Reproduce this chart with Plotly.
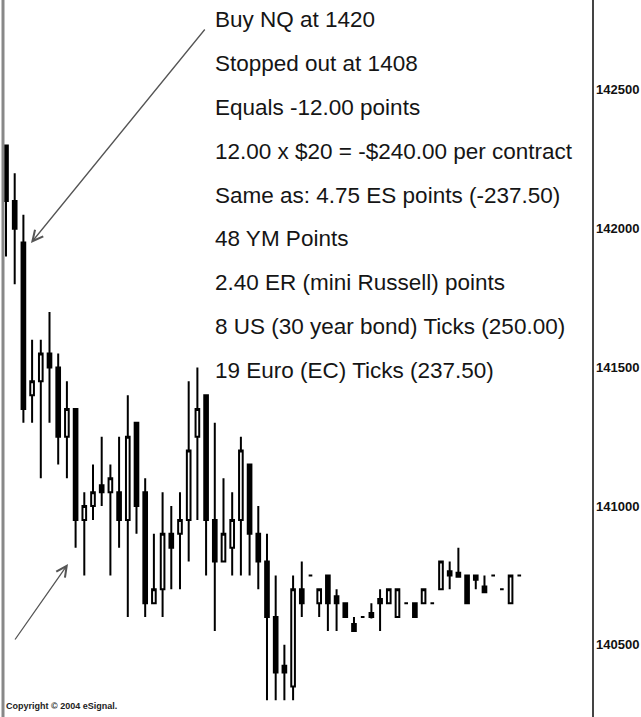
import plotly.graph_objects as go

# ---- data (NQ price x100) ----
bar_index = list(range(60))
open_ = [142300, 142100, 141950, 141400, 141450, 141550, 141500, 141250, 141350, 140950,
         141000, 141075, 141050, 141050, 140950, 141300, 141050, 140650, 140700, 140900,
         140900, 140950, 141250, 141400, 140950, 140800, 140850, 140950, 141150, 140900,
         140800, 140600, 140425, 140350, 140700, 140750, 140650, 140750, 140675, 140650,
         140575, 140600, 140615, 140665, 140650, 140600, 140650, 140650, 140650, 140650,
         140700, 140765, 140760, 140750, 140750, 140710, 140750, 140700, 140650, 140750]
high = [142300, 142200, 142050, 141600, 141600, 141700, 141550, 141450, 141350, 141050,
        141150, 141250, 141150, 141250, 141400, 141300, 141100, 140900, 141050, 141000,
        141050, 141450, 141500, 141400, 141300, 141100, 141050, 141250, 141150, 141000,
        140900, 140750, 140500, 140750, 140800, 140750, 140700, 140750, 140700, 140650,
        140600, 140600, 140650, 140700, 140700, 140700, 140650, 140650, 140700, 140650,
        140800, 140800, 140850, 140750, 140750, 140750, 140750, 140700, 140750, 140750]
low = [141900, 141800, 141300, 141300, 141100, 141300, 141150, 141100, 140850, 140750,
       140950, 141000, 140750, 140850, 140600, 140900, 140600, 140650, 140600, 140700,
       140700, 140800, 140950, 140750, 140550, 140800, 140750, 140750, 140750, 140700,
       140300, 140300, 140300, 140300, 140600, 140750, 140600, 140550, 140550, 140600,
       140550, 140600, 140595, 140550, 140650, 140600, 140650, 140600, 140650, 140650,
       140700, 140700, 140745, 140650, 140700, 140690, 140750, 140700, 140650, 140750]
close = [142100, 142000, 141350, 141450, 141550, 141500, 141250, 141350, 140950, 141000,
         141050, 141050, 141100, 140950, 141250, 141000, 140650, 140700, 140900, 140850,
         140950, 141200, 141350, 140950, 140800, 140900, 140950, 141200, 140900, 140800,
         140600, 140400, 140400, 140700, 140650, 140750, 140700, 140650, 140650, 140600,
         140550, 140600, 140600, 140650, 140700, 140700, 140650, 140600, 140700, 140650,
         140800, 140750, 140745, 140650, 140735, 140690, 140750, 140700, 140750, 140750]

tick_vals = [140500, 141000, 141500, 142000, 142500]
tick_text = ["140500", "141000", "141500", "142000", "142500"]

note_lines = [
    "Buy NQ at 1420",
    "Stopped out at 1408",
    "Equals -12.00 points",
    "12.00 x $20 = -$240.00 per contract",
    "Same as: 4.75 ES points (-237.50)",
    "48 YM Points",
    "2.40 ER (mini Russell) points",
    "8 US (30 year bond) Ticks (250.00)",
    "19 Euro (EC) Ticks (237.50)",
]

# ---- layout geometry ----
W, H = 641, 717
ML, MR, MT, MB = 3, 49, 0, 0
PW, PH = W - ML - MR, H - MT - MB


def px(x):
    return (x - ML) / PW


def py(y):
    return 1 - (y - MT) / PH


fig = go.Figure(go.Candlestick(
    x=bar_index, open=open_, high=high, low=low, close=close,
    increasing=dict(line=dict(color="black", width=2), fillcolor="white"),
    decreasing=dict(line=dict(color="black", width=2), fillcolor="black"),
    whiskerwidth=0,
    hoverinfo="skip",
))

annotations = []
for k, t in enumerate(note_lines):
    annotations.append(dict(
        text=t, xref="paper", yref="paper", x=px(213), y=py(20 + 43.8 * k),
        xanchor="left", yanchor="middle", showarrow=False,
        font=dict(family="Liberation Sans, Arial", size=22.5, color="#151515"),
    ))

# arrows
annotations.append(dict(
    xref="paper", yref="paper",
    x=px(31), y=py(243), ax=175, ay=-215, text="", showarrow=True,
    arrowhead=5, arrowsize=1.6, arrowwidth=1.3, arrowcolor="#555",
))
annotations.append(dict(
    xref="paper", yref="paper",
    x=px(68), y=py(564), ax=-54, ay=77, text="", showarrow=True,
    arrowhead=5, arrowsize=1.6, arrowwidth=1.3, arrowcolor="#555",
))
annotations.append(dict(
    text="<b>Copyright © 2004 eSignal.</b>", xref="paper", yref="paper",
    x=px(4), y=py(706), xanchor="left", yanchor="middle", showarrow=False,
    font=dict(family="Liberation Sans", size=9, color="#222"),
))

fig.update_layout(
    width=W, height=H,
    margin=dict(l=ML, r=MR, t=MT, b=MB, pad=0),
    paper_bgcolor="white", plot_bgcolor="white",
    showlegend=False,
    boxgap=0.4,
    annotations=annotations,
    shapes=[dict(type="line", xref="paper", yref="paper", x0=0, x1=0, y0=0, y1=1,
                 line=dict(color="#888", width=3))],
    xaxis=dict(range=[-0.345, 67.36], visible=False, rangeslider=dict(visible=False),
               showgrid=False, zeroline=False),
    yaxis=dict(range=[140240, 142824], side="right", showgrid=False, zeroline=False,
               showline=True, linecolor="#444", linewidth=1.5, ticks="",
               tickvals=tick_vals, ticktext=tick_text,
               tickfont=dict(family="Liberation Sans", size=13, color="#111", weight="bold"),
               ticklabelstandoff=0),
)

fig.write_html("out.html",
               config={"displayModeBar": False, "staticPlot": True},
               post_script="document.body.style.margin='0';document.body.style.overflow='hidden';")
